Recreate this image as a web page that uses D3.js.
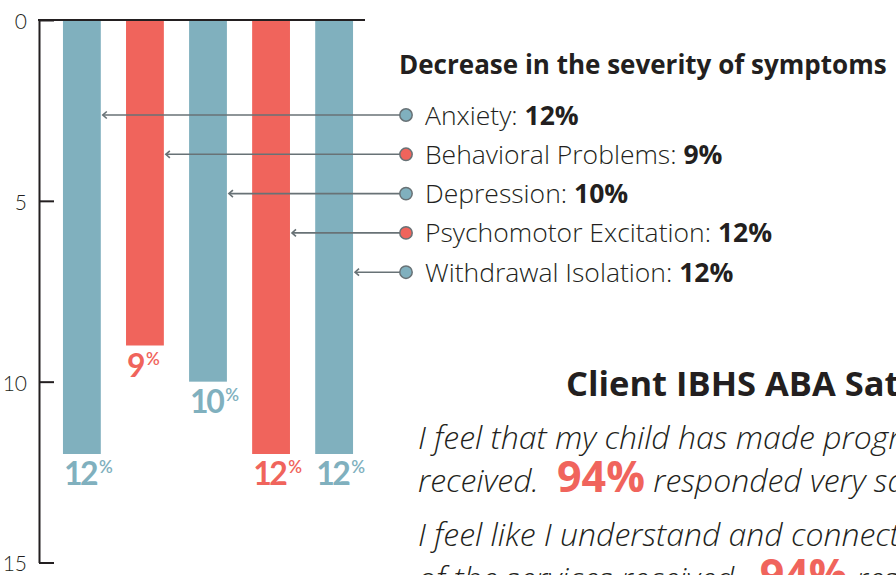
<!DOCTYPE html>
<html lang="en">
  <head>
    <meta charset="utf-8" />
    <title>Decrease in the severity of symptoms</title>
    <script src="https://d3js.org/d3.v7.min.js"></script>
    <style>
      body { margin: 0; background: #fff; }
      svg { display: block; font-family: "Open Sans", sans-serif; }
    </style>
  </head>
  <body>
    <div id="my_dataviz"></div>
  <script>
      // data
      const symptoms = ["Anxiety", "Behavioral Problems", "Depression", "Psychomotor Excitation", "Withdrawal Isolation"];
      const decrease = [12, 9, 10, 12, 12];
      const yTicks = [0, 5, 10, 15];
      const title = "Decrease in the severity of symptoms";
      const surveyTitle = "Client IBHS ABA Satisfaction Survey";
      const surveyPct = ["94%", "94%"];

      const teal = "#80b0be", red = "#f0645c", ink = "#231f20", arrowGray = "#687276";

      const width = 896, height = 575;

      const svg = d3.select("#my_dataviz")
        .append("svg")
          .attr("width", width)
          .attr("height", height);

      // scales
      const x = d3.scaleBand()
        .domain(symptoms)
        .range([39, 377])
        .paddingInner(0.4)
        .paddingOuter(0.38);

      const y = d3.scaleLinear()
        .domain([0, 15])
        .range([20, 562.5]);

      const color = d3.scaleOrdinal()
        .domain(symptoms)
        .range([teal, red, teal, red, teal]);

      // bars
      svg.append("g")
        .selectAll("rect")
        .data(symptoms)
        .join("rect")
          .attr("x", d => x(d))
          .attr("y", y(0))
          .attr("width", x.bandwidth())
          .attr("height", (d, i) => y(decrease[i]) - y(0))
          .style("fill", d => color(d));

      // value labels under bars
      const vl = svg.append("g")
        .selectAll("text")
        .data(symptoms)
        .join("text")
          .attr("x", d => x(d) + 1)
          .attr("y", (d, i) => y(decrease[i]) + 31)
          .style("fill", d => color(d))
          .style("font-family", "Lato, sans-serif")
          .style("font-weight", 700)
          .style("font-size", "32px");
      vl.append("tspan")
        .style("letter-spacing", "-2.5px")
        .text((d, i) => decrease[i]);
      vl.append("tspan")
        .attr("dx", 3)
        .attr("dy", -12)
        .style("font-size", "17px")
        .style("font-weight", 600)
        .text("%");

      // y axis
      const yAxis = svg.append("g")
        .attr("transform", "translate(39,0)")
        .call(d3.axisLeft(y).tickValues(yTicks).tickSizeInner(-15).tickSizeOuter(0).tickPadding(12));
      yAxis.select(".domain").attr("stroke", ink).attr("stroke-width", 2);
      yAxis.selectAll(".tick line").attr("stroke", ink).attr("stroke-width", 2);
      yAxis.selectAll(".tick text")
        .attr("fill", ink)
        .attr("dy", "0.4em")
        .style("font-family", "Lato, sans-serif")
        .style("font-weight", 300)
        .style("font-size", "21px");

      // top line
      svg.append("line")
        .attr("x1", 38).attr("x2", 365)
        .attr("y1", y(0)).attr("y2", y(0))
        .attr("stroke", ink)
        .attr("stroke-width", 2.2);

      // legend
      svg.append("text")
        .attr("x", 399)
        .attr("y", 74)
        .style("font-weight", 700)
        .style("font-size", "26px")
        .style("fill", ink)
        .text(title);

      const rowY = i => 115 + i * 39.3;
      const dotX = 406;

      const rows = svg.append("g")
        .selectAll("g")
        .data(symptoms)
        .join("g");

      rows.append("line")
        .attr("x1", d => x(d) + x.bandwidth() + 2)
        .attr("x2", dotX)
        .attr("y1", (d, i) => rowY(i))
        .attr("y2", (d, i) => rowY(i))
        .attr("stroke", arrowGray)
        .attr("stroke-width", 1.6);

      rows.append("path")
        .attr("d", (d, i) => {
          const tx = x(d) + x.bandwidth() + 2, ty = rowY(i);
          return `M${tx + 4},${ty - 3.5} L${tx},${ty} L${tx + 4},${ty + 3.5}`;
        })
        .attr("fill", "none")
        .attr("stroke", arrowGray)
        .attr("stroke-width", 1.6);

      rows.append("circle")
        .attr("cx", dotX)
        .attr("cy", (d, i) => rowY(i))
        .attr("r", 6.2)
        .style("fill", d => color(d))
        .attr("stroke", arrowGray)
        .attr("stroke-width", 1.5);

      const lt = rows.append("text")
        .attr("x", 425)
        .attr("y", (d, i) => rowY(i) + 9.5)
        .style("font-size", "26.5px")
        .style("fill", ink);
      lt.append("tspan")
        .style("font-weight", 300)
        .text(d => d + ": ");
      lt.append("tspan")
        .style("font-weight", 700)
        .text((d, i) => decrease[i] + "%");

      // survey block
      svg.append("text")
        .attr("x", 566)
        .attr("y", 396)
        .style("font-weight", 700)
        .style("font-size", "34.5px")
        .style("fill", ink)
        .text(surveyTitle);

      const para = [
        [["I feel that my child has made progress as a result of the services", false]],
        [["received. ", false], [surveyPct[0], true], [" responded very satisfied.", false]],
        [["I feel like I understand and connect with the staff as a result", false]],
        [["of the services received. ", false], [surveyPct[1], true], [" responded very satisfied.", false]]
      ];
      const lineY = [449, 492, 546, 590];

      para.forEach((parts, i) => {
        const t = svg.append("text")
          .attr("x", 418)
          .attr("y", lineY[i])
          .style("fill", ink);
        parts.forEach(p => {
          t.append("tspan")
            .attr("dx", p[1] ? 10 : 0)
            .style("font-style", p[1] ? "normal" : "italic")
            .style("font-weight", p[1] ? 700 : 300)
            .style("font-size", p[1] ? "43px" : "32px")
            .style("fill", p[1] ? red : ink)
            .text(p[0]);
        });
      });
  </script>
  </body>
</html>
